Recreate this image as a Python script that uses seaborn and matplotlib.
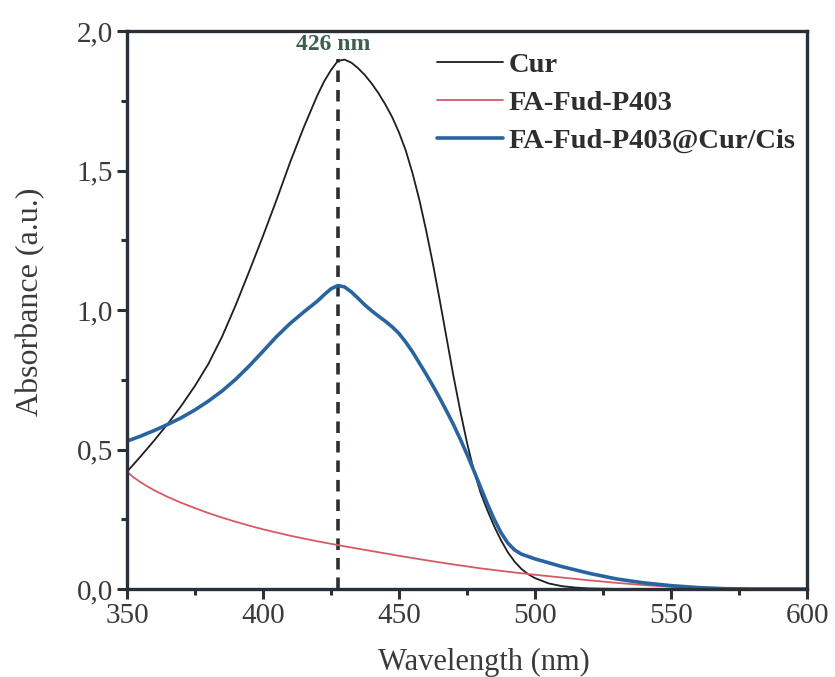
import matplotlib
matplotlib.use("Agg")
import matplotlib.pyplot as plt
from matplotlib.ticker import FuncFormatter, MultipleLocator
import seaborn as sns
import pandas as pd

# ---- data ----
cur_wl = [350, 355, 360, 365, 370, 375, 380, 385, 390, 395, 400, 405, 410, 415, 420, 422.5,
          425, 427.5, 430, 432.5, 435, 437.5, 440, 442.5, 445, 447.5, 450, 452.5, 455, 457.5,
          460, 462.5, 465, 467.5, 470, 472.5, 475, 477.5, 480, 482.5, 485, 487.5, 490, 492.5,
          495, 497.5, 500, 505, 510, 515, 520, 530, 600]
cur_abs = [0.42, 0.475, 0.532, 0.592, 0.657, 0.728, 0.808, 0.905, 1.018, 1.14, 1.265, 1.395,
           1.53, 1.655, 1.77, 1.82, 1.86, 1.893, 1.898, 1.887, 1.867, 1.842, 1.812, 1.777,
           1.737, 1.692, 1.637, 1.572, 1.49, 1.395, 1.285, 1.165, 1.035, 0.9, 0.765, 0.64,
           0.525, 0.425, 0.345, 0.282, 0.225, 0.175, 0.132, 0.098, 0.072, 0.053, 0.039, 0.02,
           0.01, 0.005, 0.002, 0.0, 0.0]

fa_wl = [350, 352.5, 355, 357.5, 360, 365, 370, 375, 380, 385, 390, 395, 400, 410, 420, 430,
         440, 450, 460, 470, 480, 490, 500, 510, 520, 530, 540, 550, 560, 570, 580, 600]
fa_abs = [0.42, 0.40, 0.383, 0.368, 0.354, 0.33, 0.309, 0.29, 0.272, 0.256, 0.241, 0.227, 0.214,
          0.191, 0.171, 0.153, 0.136, 0.119, 0.103, 0.088, 0.074, 0.062, 0.051, 0.041, 0.031,
          0.022, 0.014, 0.008, 0.003, 0.0005, 0.0, 0.0]

mix_wl = [350, 355, 360, 365, 370, 375, 380, 385, 390, 395, 400, 405, 410, 415, 420, 422.5,
          425, 427.5, 430, 432.5, 435, 437.5, 440, 442.5, 445, 447.5, 450, 452.5, 455, 457.5,
          460, 462.5, 465, 467.5, 470, 472.5, 475, 477.5, 480, 482.5, 485, 487.5, 490, 492.5,
          495, 500, 505, 510, 520, 530, 540, 550, 560, 570, 580, 600]
mix_abs = [0.53, 0.548, 0.568, 0.59, 0.614, 0.642, 0.674, 0.71, 0.752, 0.80, 0.852, 0.905,
           0.952, 0.993, 1.032, 1.055, 1.076, 1.088, 1.083, 1.065, 1.042, 1.018, 0.997, 0.978,
           0.96, 0.94, 0.916, 0.885, 0.85, 0.81, 0.77, 0.728, 0.684, 0.638, 0.59, 0.538,
           0.483, 0.425, 0.365, 0.305, 0.25, 0.202, 0.165, 0.14, 0.125, 0.108, 0.094, 0.08,
           0.056, 0.036, 0.022, 0.012, 0.005, 0.001, 0.0, 0.0]

series_names = ["Cur", "FA-Fud-P403", "FA-Fud-P403@Cur/Cis"]
peak_wl = 427.5
peak_top = 1.9
peak_label = "426 nm"
x_ticks = [350, 400, 450, 500, 550, 600]
y_ticks = [0.0, 0.5, 1.0, 1.5, 2.0]

# ---- style ----
sns.set_theme(style="white")
plt.rcParams["font.family"] = ["Liberation Serif", "DejaVu Serif"]

fig = plt.figure(figsize=(8.35, 6.77), dpi=100)
ax = fig.add_axes([0.152, 0.130, 0.8145, 0.824])

df_cur = pd.DataFrame({"wl": cur_wl, "A": cur_abs})
df_fa = pd.DataFrame({"wl": fa_wl, "A": fa_abs})
df_mix = pd.DataFrame({"wl": mix_wl, "A": mix_abs})

sns.lineplot(data=df_cur, x="wl", y="A", ax=ax, color="#1e1e1e", linewidth=1.3,
             label=series_names[0])
sns.lineplot(data=df_fa, x="wl", y="A", ax=ax, color="#d65a64", linewidth=1.3,
             label=series_names[1])
sns.lineplot(data=df_mix, x="wl", y="A", ax=ax, color="#2a64a0", linewidth=2.6,
             label=series_names[2])

ax.plot([peak_wl, peak_wl], [0, peak_top], linestyle=(0, (3.2, 2.2)), color="#2b2f33",
        linewidth=2.6, zorder=1)
ax.text(peak_wl - 1.5, 1.915, peak_label, ha="center", va="bottom", fontsize=17,
        fontweight="bold", color="#3e5e50")

ax.set_xlim(350, 600)
ax.set_ylim(0, 2.0)
ax.set_xticks(x_ticks)
ax.set_yticks(y_ticks)
ax.xaxis.set_minor_locator(MultipleLocator(25))
ax.yaxis.set_minor_locator(MultipleLocator(0.25))
ax.yaxis.set_major_formatter(FuncFormatter(lambda v, p: f"{v:.1f}".replace(".", ",")))
ax.xaxis.set_major_formatter(FuncFormatter(lambda v, p: f"{int(v)}"))

ax.tick_params(axis="both", which="major", direction="out", length=7, width=2.2,
               color="#2a3038", labelsize=21, labelcolor="#3a3a3a", pad=3,
               bottom=True, left=True, top=False, right=False)
ax.tick_params(axis="both", which="minor", direction="out", length=4, width=2.2,
               color="#2a3038", bottom=True, left=True, top=False, right=False)

for s in ax.spines.values():
    s.set_linewidth(2.4)
    s.set_color("#2a3038")

ax.set_xlabel("Wavelength (nm)", fontsize=22, color="#3a3a3a")
ax.set_ylabel("Absorbance (a.u.)", fontsize=23, color="#3a3a3a")
ax.xaxis.set_label_coords(0.525, -0.105)
ax.yaxis.set_label_coords(-0.12, 0.515)

leg = ax.legend(loc="upper left", frameon=False, fontsize=20.5, handlelength=2.3,
                handletextpad=0.2, labelspacing=0.42, borderpad=0, borderaxespad=0,
                bbox_to_anchor=(0.456, 0.962))
for t in leg.get_texts():
    t.set_fontweight("bold")
    t.set_color("#2e2e2e")

fig.savefig("out.png", dpi=100)
